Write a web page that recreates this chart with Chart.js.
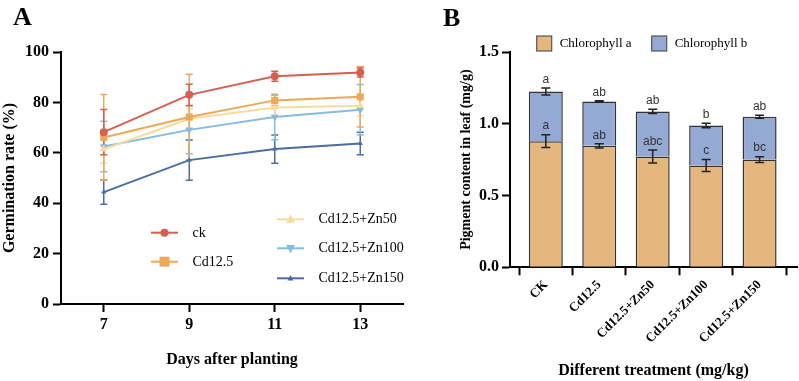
<!DOCTYPE html>
<html><head><meta charset="utf-8">
<script src="https://cdn.jsdelivr.net/npm/chart.js@4.4.1/dist/chart.umd.min.js"></script>
<style>
html,body{margin:0;padding:0;background:#fff;width:799px;height:381px;overflow:hidden}
#ca{position:absolute;left:0;top:0}
#cb{position:absolute;left:400px;top:0}
</style></head><body>
<canvas id="ca" width="410" height="381"></canvas>
<canvas id="cb" width="399" height="381"></canvas>
<script>
// ---------- Panel A data ----------
const days = [7, 9, 11, 13];
const seriesNames = ['ck', 'Cd12.5', 'Cd12.5+Zn50', 'Cd12.5+Zn100', 'Cd12.5+Zn150'];
const ckRate = [68.2, 83.0, 90.4, 91.9];
const ckErr = [9.0, 4.2, 2.0, 1.8];
const cdRate = [66.1, 74.2, 80.8, 82.2];
const cdErr = [17.0, 17.0, 2.0, 12.0];
const zn50Rate = [61.4, 73.5, 78.0, 78.7];
const zn50Err = [5.5, 4.0, 3.0, 4.0];
const zn100Rate = [62.5, 69.1, 74.2, 77.1];
const zn100Err = [10.0, 9.5, 9.0, 10.0];
const zn150Rate = [44.4, 57.1, 61.5, 63.7];
const zn150Err = [4.8, 8.0, 5.6, 4.5];
const yTicksA = [0, 20, 40, 60, 80, 100];

// ---------- Panel B data ----------
const treatments = ['CK', 'Cd12.5', 'Cd12.5+Zn50', 'Cd12.5+Zn100', 'Cd12.5+Zn150'];
const chlA = [0.879, 0.846, 0.772, 0.709, 0.751];
const chlAErr = [0.045, 0.015, 0.045, 0.042, 0.020];
const chlB = [0.346, 0.310, 0.314, 0.279, 0.298];
const totalErr = [0.025, 0.004, 0.015, 0.015, 0.010];
const lettersChlA = ['a', 'ab', 'abc', 'c', 'bc'];
const lettersTotal = ['a', 'ab', 'ab', 'b', 'ab'];
const yTicksB = [0, 0.5, 1.0, 1.5];

const SERIF = '"Liberation Serif", "Times New Roman", serif';
const SANS = '"Liberation Sans", Arial, sans-serif';
Chart.defaults.font.family = SERIF;
Chart.defaults.color = '#000';

const colorsA = ['#d4604f', '#eda95a', '#f7dc9e', '#86bddd', '#4b6da6'];
const stylesA = [
  {s: 'circle', r: 4, rot: 0},
  {s: 'rect', r: 5, rot: 0},
  {s: 'triangle', r: 4.5, rot: 0},
  {s: 'triangle', r: 4.5, rot: 180},
  {s: 'triangle', r: 3, rot: 0}
];
const ratesA = [ckRate, cdRate, zn50Rate, zn100Rate, zn150Rate];
const errsA = [ckErr, cdErr, zn50Err, zn100Err, zn150Err];

function drawMarker(ctx, st, x, y, color) {
  ctx.save();
  ctx.fillStyle = color; ctx.strokeStyle = color; ctx.lineWidth = 1;
  ctx.translate(x, y);
  ctx.rotate(st.rot * Math.PI / 180);
  ctx.beginPath();
  const r = st.r;
  if (st.s === 'circle') { ctx.arc(0, 0, r, 0, Math.PI * 2); }
  else if (st.s === 'rect') { ctx.rect(-r, -r, 2 * r, 2 * r); }
  else { ctx.moveTo(0, -r * 1.1); ctx.lineTo(r, r * 0.75); ctx.lineTo(-r, r * 0.75); ctx.closePath(); }
  ctx.fill();
  ctx.restore();
}

const errPluginA = {
  id: 'errA',
  beforeDatasetsDraw(chart) {
    const {ctx, scales: {x, y}} = chart;
    ctx.save();
    ctx.lineWidth = 1.5;
    for (let i = ratesA.length - 1; i >= 0; i--) {
      ctx.strokeStyle = colorsA[i];
      ratesA[i].forEach((v, j) => {
        const px = x.getPixelForValue(days[j]);
        const t = y.getPixelForValue(v + errsA[i][j]);
        const b = y.getPixelForValue(v - errsA[i][j]);
        ctx.beginPath();
        ctx.moveTo(px, t); ctx.lineTo(px, b);
        ctx.moveTo(px - 3.5, t); ctx.lineTo(px + 3.5, t);
        ctx.moveTo(px - 3.5, b); ctx.lineTo(px + 3.5, b);
        ctx.stroke();
      });
    }
    ctx.restore();
  },
  afterDraw(chart) {
    const ctx = chart.ctx;
    ctx.save();
    ctx.fillStyle = '#000';
    ctx.font = 'bold 26px ' + SERIF;
    ctx.textBaseline = 'alphabetic';
    ctx.textAlign = 'left';
    ctx.fillText('A', 13, 25);
    // legend
    const pos = [[151, 232.7], [151, 261.7], [277, 219.3], [277, 248.3], [277, 278.3]];
    ctx.font = '14px ' + SERIF;
    ctx.textBaseline = 'middle';
    pos.forEach((p, i) => {
      ctx.strokeStyle = colorsA[i]; ctx.lineWidth = 2;
      ctx.beginPath(); ctx.moveTo(p[0], p[1]); ctx.lineTo(p[0] + 27, p[1]); ctx.stroke();
      drawMarker(ctx, stylesA[i], p[0] + 13.5, p[1], colorsA[i]);
      ctx.fillStyle = '#000';
      ctx.fillText(seriesNames[i], p[0] + 41.5, p[1] + 0.5);
    });
    ctx.restore();
  }
};

new Chart(document.getElementById('ca'), {
  type: 'line',
  data: {
    datasets: ratesA.map((r, i) => ({
      label: seriesNames[i],
      data: r.map((v, j) => ({x: days[j], y: v})),
      borderColor: colorsA[i],
      backgroundColor: colorsA[i],
      borderWidth: 2,
      pointStyle: stylesA[i].s,
      pointRadius: stylesA[i].r,
      pointRotation: stylesA[i].rot,
      pointBorderWidth: 0,
      tension: 0
    }))
  },
  options: {
    responsive: false, animation: false,
    layout: {padding: {top: 52, right: 7, left: 0, bottom: 0}, autoPadding: false},
    plugins: {legend: {display: false}, tooltip: {enabled: false}},
    scales: {
      x: {
        type: 'linear', min: 6, max: 14,
        afterBuildTicks: s => { s.ticks = days.map(v => ({value: v})); },
        afterFit: s => { s.height = 77; },
        border: {display: true, color: '#000', width: 2},
        grid: {display: true, drawOnChartArea: false, drawTicks: true, tickLength: 8, tickWidth: 2, tickColor: '#000'},
        ticks: {font: {size: 16, weight: 'bold'}, color: '#000', padding: 3, maxRotation: 0},
        title: {display: true, text: 'Days after planting', font: {size: 16, weight: 'bold'}, color: '#000', padding: {top: 0, bottom: 12}}
      },
      y: {
        min: 0, max: 100,
        afterBuildTicks: s => { s.ticks = yTicksA.map(v => ({value: v})); },
        afterFit: s => { s.width = 61; },
        border: {display: true, color: '#000', width: 2},
        grid: {display: true, drawOnChartArea: false, drawTicks: true, tickLength: 8, tickWidth: 2, tickColor: '#000'},
        ticks: {font: {size: 16, weight: 'bold'}, color: '#000', padding: 4},
        title: {display: true, text: 'Germination rate (%)', font: {size: 16, weight: 'bold'}, color: '#000', padding: {top: 0, bottom: 0}}
      }
    }
  },
  plugins: [errPluginA]
});

// ---------- Panel B ----------
const colChlA = '#e4b77f';
const colChlB = '#95a9d5';

const pluginB = {
  id: 'errB',
  afterDatasetsDraw(chart) {
    const {ctx, scales: {x, y}} = chart;
    ctx.save();
    ctx.strokeStyle = '#222'; ctx.lineWidth = 1.5;
    ctx.fillStyle = '#333';
    ctx.font = '12px ' + SANS;
    ctx.textAlign = 'center'; ctx.textBaseline = 'middle';
    treatments.forEach((t, i) => {
      const px = x.getPixelForValue(i);
      const pairs = [[chlA[i], chlAErr[i], lettersChlA[i]], [chlA[i] + chlB[i], totalErr[i], lettersTotal[i]]];
      pairs.forEach(([v, e, lab]) => {
        const top = y.getPixelForValue(v + e), bot = y.getPixelForValue(v - e);
        ctx.beginPath();
        ctx.moveTo(px, top); ctx.lineTo(px, bot);
        ctx.moveTo(px - 4.5, top); ctx.lineTo(px + 4.5, top);
        ctx.moveTo(px - 4.5, bot); ctx.lineTo(px + 4.5, bot);
        ctx.stroke();
        ctx.fillText(lab, px, top - 8.5);
      });
    });
    ctx.restore();
  },
  afterDraw(chart) {
    const ctx = chart.ctx;
    ctx.save();
    ctx.fillStyle = '#000';
    ctx.font = 'bold 26px ' + SERIF;
    ctx.textAlign = 'left'; ctx.textBaseline = 'alphabetic';
    ctx.fillText('B', 43, 26);
    const items = [[136.7, 'Chlorophyll a', colChlA], [251.7, 'Chlorophyll b', colChlB]];
    ctx.font = '13px ' + SERIF;
    ctx.textBaseline = 'middle';
    items.forEach(([bx, lab, col]) => {
      ctx.fillStyle = col;
      ctx.fillRect(bx, 36, 15, 15);
      ctx.strokeStyle = '#555'; ctx.lineWidth = 1.2;
      ctx.strokeRect(bx, 36, 15, 15);
      ctx.fillStyle = '#000';
      ctx.fillText(lab, bx + 23, 44);
    });
    ctx.restore();
  }
};

new Chart(document.getElementById('cb'), {
  type: 'bar',
  data: {
    datasets: [
      {label: 'Chlorophyll a', data: chlA.map((v, i) => ({x: i, y: v})), backgroundColor: colChlA, borderColor: '#333', borderWidth: 1.5, barPercentage: 1, categoryPercentage: 0.636},
      {label: 'Chlorophyll b', data: chlB.map((v, i) => ({x: i, y: v})), backgroundColor: colChlB, borderColor: '#333', borderWidth: 1.5, barPercentage: 1, categoryPercentage: 0.636}
    ]
  },
  options: {
    responsive: false, animation: false,
    layout: {padding: {top: 52, right: 2, left: 0, bottom: 0}, autoPadding: false},
    plugins: {legend: {display: false}, tooltip: {enabled: false}},
    scales: {
      x: {
        type: 'linear', stacked: true, min: -0.67, max: 4.7, offset: false,
        afterBuildTicks: s => { s.ticks = treatments.map((t, i) => ({value: i})); },
        afterFit: s => { s.height = 113.7; },
        border: {display: true, color: '#000', width: 2},
        grid: {display: true, drawOnChartArea: false, drawTicks: true, tickLength: 8, tickWidth: 2, tickColor: '#000'},
        ticks: {font: {size: 13, weight: 'bold'}, color: '#000', padding: 2, minRotation: 45, maxRotation: 45, autoSkip: false,
          callback: v => treatments[v]},
        title: {display: true, text: 'Different treatment (mg/kg)', font: {size: 16, weight: 'bold'}, color: '#000', padding: {top: 0, bottom: 1}}
      },
      y: {
        stacked: true, min: 0, max: 1.5,
        afterBuildTicks: s => { s.ticks = yTicksB.map(v => ({value: v})); },
        afterFit: s => { s.width = 110; },
        border: {display: true, color: '#000', width: 2},
        grid: {display: true, drawOnChartArea: false, drawTicks: true, tickLength: 8, tickWidth: 2, tickColor: '#000'},
        ticks: {font: {size: 16, weight: 'bold'}, color: '#000', padding: 3, callback: v => v.toFixed(1)},
        title: {display: true, text: 'Pigment content in leaf (mg/g)', font: {size: 14, weight: 'bold'}, color: '#000', padding: {top: 57.5, bottom: 0}}
      }
    }
  },
  plugins: [pluginB]
});
</script>
</body></html>
